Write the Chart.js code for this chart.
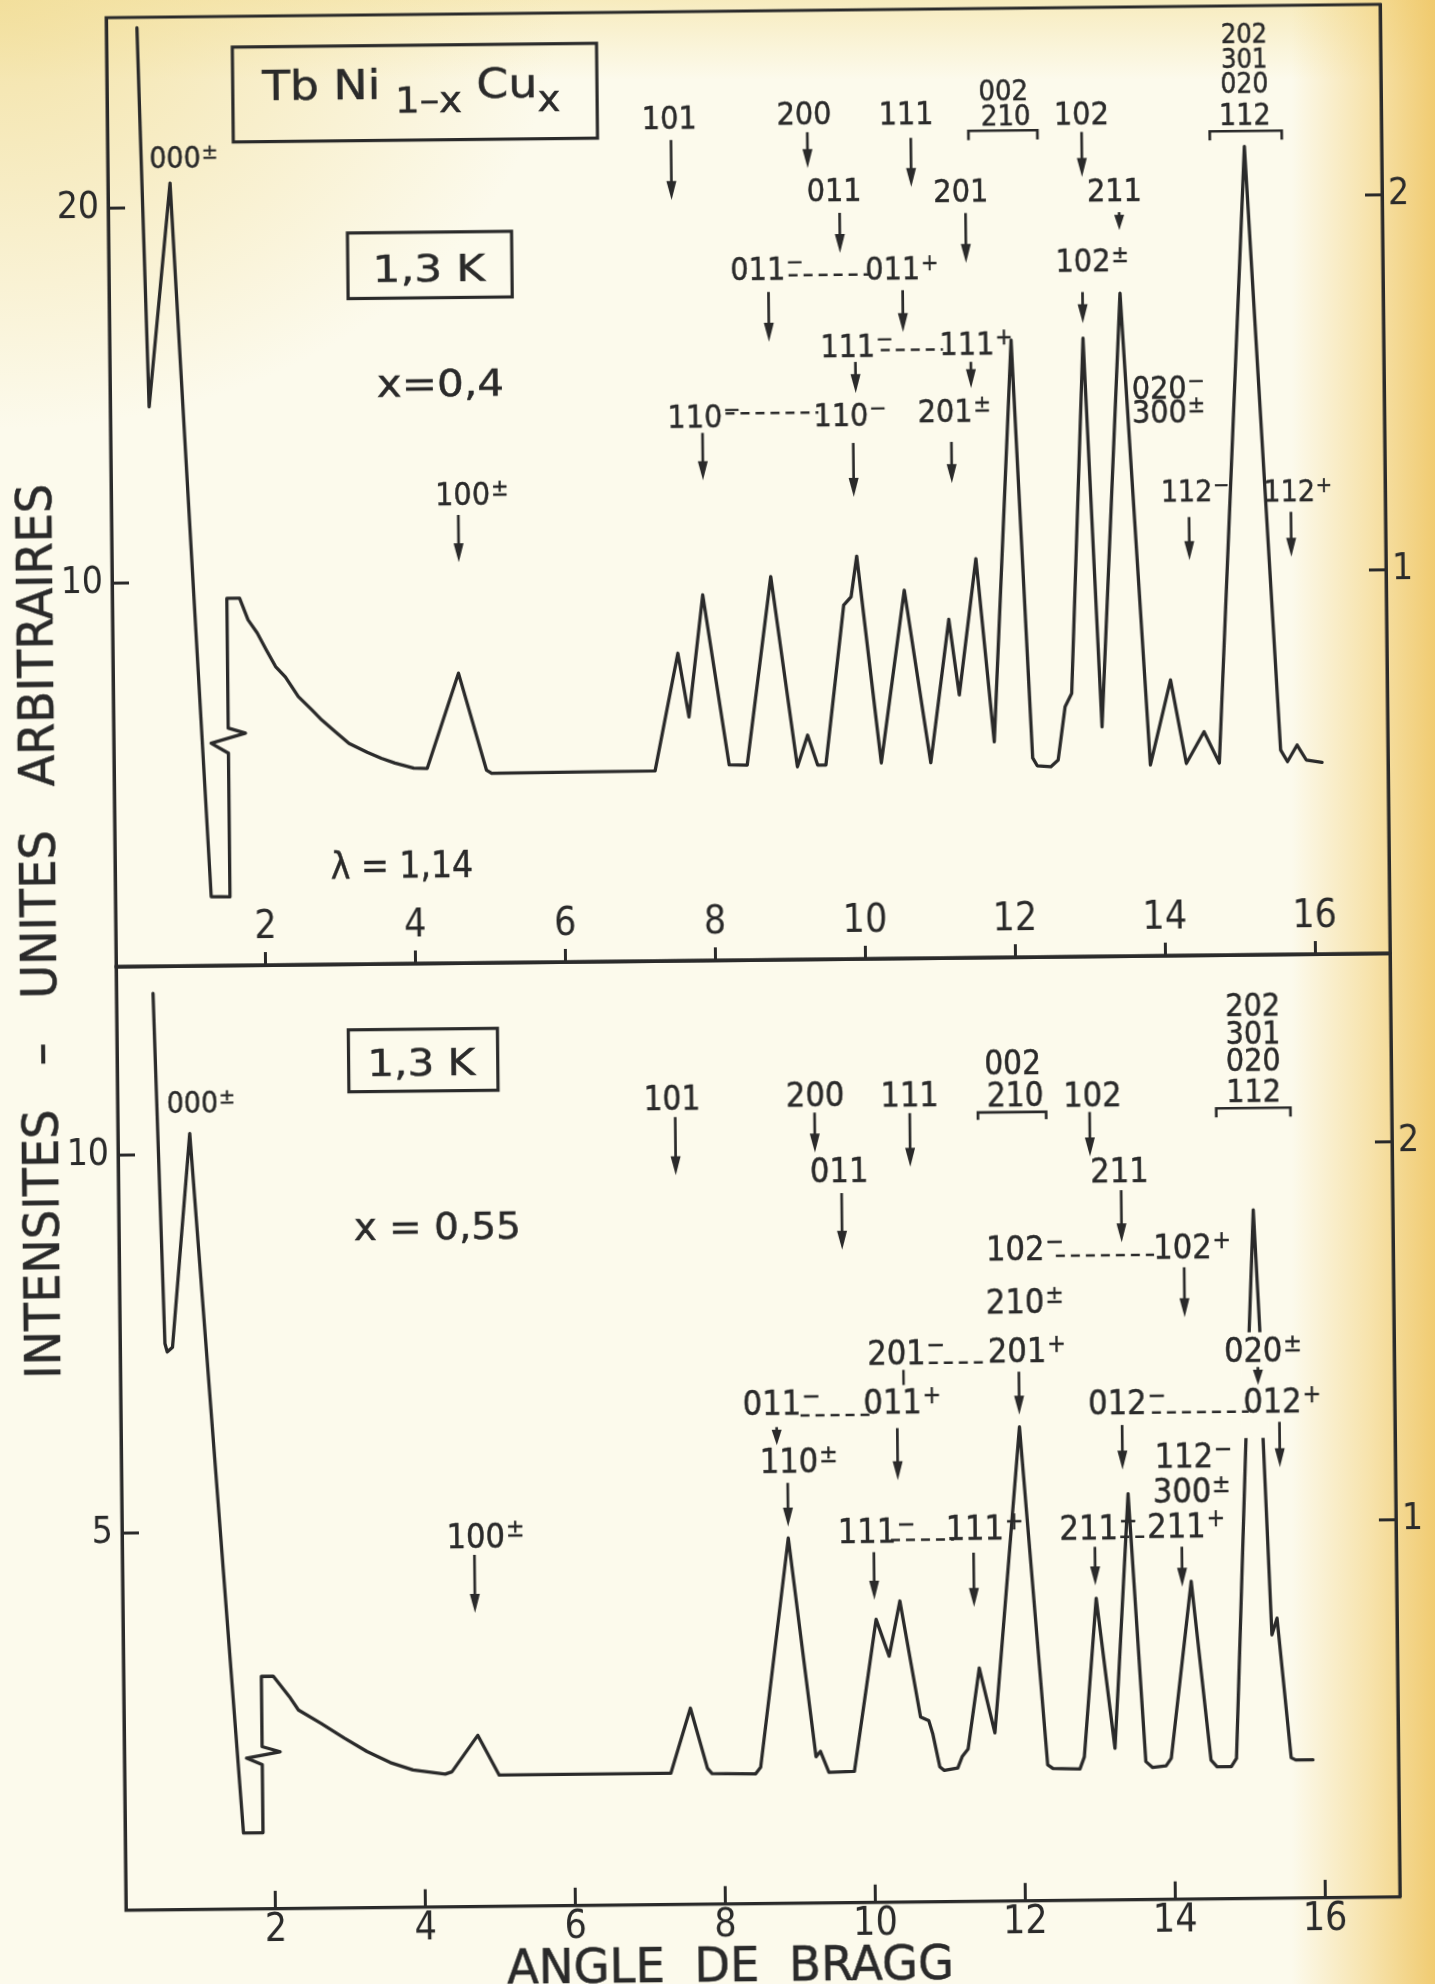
<!DOCTYPE html>
<html lang="fr">
<head>
<meta charset="utf-8">
<title>Tb Ni1-x Cux – diagrammes de diffraction à 1,3 K</title>
<script src="https://cdn.jsdelivr.net/npm/chart.js@4.4.1/dist/chart.umd.min.js"></script>
<style>
  html, body { margin: 0; padding: 0; }
  body {
    width: 1435px; height: 1984px; overflow: hidden; position: relative;
    background:
      linear-gradient(to right, rgba(243,212,128,0) 0%, rgba(243,212,128,0) 90%, rgba(242,207,118,0.55) 95.5%, rgba(239,198,100,0.9) 100%),
      radial-gradient(ellipse 560px 430px at 0% 0%, rgba(241,220,148,0.8), rgba(241,220,148,0) 100%),
      linear-gradient(to bottom, rgba(244,226,160,0.6) 0px, rgba(244,226,160,0) 80px),
      #fcfaec;
  }
  #sheet {
    position: absolute; left: 0; top: 0; width: 1435px; height: 1984px;
    transform: rotate(-0.6deg); transform-origin: 750px 960px;
  }
  #sheet canvas { position: absolute; left: 0; top: 0; }
</style>
</head>
<body>
<div id="sheet">
  <canvas id="upper" width="1435" height="1984"></canvas>
  <canvas id="lower" width="1435" height="1984"></canvas>
</div>
<script>
// ---- axis ticks ----------------------------------------------------------
const angleTicks = [2, 4, 6, 8, 10, 12, 14, 16];
const upperLeftTicks = [10, 20];
const upperRightTicks = [1, 2];
const lowerLeftTicks = [5, 10];
const lowerRightTicks = [1, 2];

// ---- x = 0,4 trace : Bragg angle (deg) / intensity (arb. units) ----------
const upperAngle = [0.41, 0.52, 0.83, 1.28, 1.53, 1.53, 1.30, 1.76, 1.53, 1.53, 1.70, 1.81, 1.93, 2.05, 2.17, 2.30,
  2.47, 2.65, 2.78, 2.96, 3.14, 3.38, 3.57, 3.75, 4.00, 4.18, 4.61, 4.97, 5.04, 7.22, 7.54, 7.68, 7.88, 8.21, 8.45,
  8.79, 9.12, 9.26, 9.39, 9.50, 9.76, 9.86, 9.94, 10.24, 10.57, 10.90, 11.16, 11.29, 11.53, 11.75, 12.03, 12.26,
  12.32, 12.50, 12.60, 12.70, 12.79, 12.99, 13.19, 13.49, 13.83, 14.11, 14.31, 14.55, 14.75, 15.17, 15.57, 15.66,
  15.79, 15.91, 16.12];
const upperIntensity = [24.8, 14.69, 20.65, 1.61, 1.60, 5.43, 5.70, 5.96, 6.10, 9.56, 9.56, 8.98, 8.63, 8.17, 7.73, 7.45,
  6.92, 6.56, 6.29, 5.97, 5.66, 5.42, 5.25, 5.12, 4.98, 4.97, 7.50, 4.91, 4.82, 4.84, 7.97, 6.27, 9.52, 4.98, 4.97,
  9.99, 4.91, 5.75, 4.95, 4.95, 9.21, 9.43, 10.51, 4.99, 9.59, 4.98, 8.80, 6.78, 10.41, 5.52, 16.23, 5.08,
  4.87, 4.84, 5.02, 6.44, 6.79, 16.26, 5.89, 17.45, 4.86, 7.12, 4.89, 5.73, 4.89, 21.33, 5.22, 4.91,
  5.35, 4.95, 4.88];

// ---- x = 0,55 trace ------------------------------------------------------
const lowerAngle = [0.49, 0.60, 0.63, 0.70, 0.96, 1.58, 1.84, 1.84, 1.63, 2.08, 1.84, 1.84, 2.00, 2.21, 2.33, 2.63,
  2.94, 3.24, 3.55, 3.85, 4.28, 4.37, 4.72, 5.00, 7.29, 7.56, 7.78, 7.84, 8.42, 8.49, 8.89, 9.23, 9.29, 9.40, 9.74,
  10.05, 10.22, 10.37, 10.63, 10.74, 10.79, 10.88, 10.94, 11.12, 11.18, 11.26, 11.42, 11.62, 11.99, 12.32, 12.39,
  12.75, 12.81, 12.99, 13.22, 13.43, 13.63, 13.72, 13.90, 13.97, 14.26, 14.50, 14.58, 14.77, 14.84, 15.01, 15.07,
  15.14, 15.21, 15.24, 15.33, 15.40, 15.57, 15.63, 15.86];
const lowerIntensity = [12.14, 7.50, 7.39, 7.45, 10.28, 1.01, 1.01, 1.91, 2.00, 2.08, 2.15, 3.08, 3.08, 2.81, 2.63, 2.45,
  2.25, 2.07, 1.92, 1.82, 1.76, 1.79, 2.27, 1.74, 1.74, 2.60, 1.80, 1.73, 1.72, 1.81, 4.84, 1.94, 2.01, 1.73, 1.74,
  3.75, 3.26, 3.99, 2.45, 2.40, 2.23, 1.79, 1.74, 1.77, 1.92, 2.02, 3.09, 2.23, 6.28, 1.80, 1.75,
  1.74, 1.90, 4.00, 2.01, 5.38, 1.83, 1.75, 1.77, 1.87, 4.21, 1.84, 1.75, 1.75, 1.86, 6.07, 7.55,
  9.12, 7.55, 6.07, 3.49, 3.71, 1.86, 1.83, 1.83];

// ---- drawing style ---------------------------------------------------------
const INK = '#2a2a2a';
const PAPER = '#fcfaec';
const FACE = '"DejaVu Sans Condensed", "DejaVu Sans", sans-serif';

// ---- reflection indexing, in (angle, intensity) units of each panel -------
const upperNotes = {
  boxes: [
    {x1: 1.68, y1: 24.26, x2: 6.54, y2: 21.73},
    {x1: 3.19, y1: 19.27, x2: 5.38, y2: 17.52}
  ],
  labels: [
    {t: 'Tb Ni _{1–x} Cu_{x}', x: 2.07, y: 23.23, s: 41, align: 'left', w: 3.98},
    {t: '1,3 K', x: 4.27, y: 18.33, s: 38, align: 'center', w: 1.50},
    {t: 'x=0,4', x: 4.41, y: 15.27, s: 38, align: 'center', w: 1.70},
    {t: 'λ = 1,14', x: 3.83, y: 2.43, s: 38, align: 'center', w: 1.90},
    {t: '000^{±}', x: 0.90, y: 21.34, s: 30},
    {t: '101', x: 7.50, y: 22.27, s: 32},
    {t: '200', x: 9.30, y: 22.34, s: 32},
    {t: '011', x: 9.69, y: 20.28, s: 32},
    {t: '111', x: 10.66, y: 22.31, s: 32},
    {t: '002', x: 11.96, y: 22.90, s: 29},
    {t: '210', x: 11.99, y: 22.23, s: 29},
    {t: '102', x: 13.00, y: 22.27, s: 32},
    {t: '201', x: 11.38, y: 20.25, s: 32},
    {t: '211', x: 13.43, y: 20.20, s: 32},
    {t: '102^{±}', x: 13.00, y: 18.34, s: 32},
    {t: '011^{−}', x: 8.66, y: 18.22, s: 32},
    {t: '011^{+}', x: 10.46, y: 18.18, s: 32},
    {t: '111^{−}', x: 9.85, y: 16.14, s: 32},
    {t: '111^{+}', x: 11.44, y: 16.16, s: 32},
    {t: '110^{−}', x: 7.80, y: 14.30, s: 32},
    {t: '110^{−}', x: 9.75, y: 14.30, s: 32},
    {t: '201^{±}', x: 11.14, y: 14.38, s: 32},
    {t: '020^{−}', x: 14.00, y: 14.94, s: 32},
    {t: '300^{±}', x: 14.00, y: 14.30, s: 32},
    {t: '112^{−}', x: 14.35, y: 12.16, s: 30},
    {t: '112^{+}', x: 15.72, y: 12.13, s: 30},
    {t: '202', x: 15.18, y: 24.34, s: 27},
    {t: '301', x: 15.18, y: 23.69, s: 27},
    {t: '020', x: 15.18, y: 23.02, s: 28},
    {t: '112', x: 15.18, y: 22.19, s: 30},
    {t: '100^{±}', x: 4.69, y: 12.28, s: 32}
  ],
  arrows: [
    {x: 7.52, y1: 21.66, y2: 20.06},
    {x: 9.34, y1: 21.83, y2: 20.87},
    {x: 9.76, y1: 19.67, y2: 18.60},
    {x: 10.72, y1: 21.65, y2: 20.34},
    {x: 13.00, y1: 21.76, y2: 20.56},
    {x: 11.44, y1: 19.63, y2: 18.30},
    {x: 13.49, y1: 19.61, y2: 19.13},
    {x: 12.99, y1: 17.49, y2: 16.66},
    {x: 8.80, y1: 17.58, y2: 16.25},
    {x: 10.59, y1: 17.59, y2: 16.47},
    {x: 9.95, y1: 15.69, y2: 14.86},
    {x: 11.49, y1: 15.66, y2: 14.96},
    {x: 7.90, y1: 13.84, y2: 12.58},
    {x: 9.91, y1: 13.53, y2: 12.09},
    {x: 11.22, y1: 13.53, y2: 12.43},
    {x: 14.38, y1: 11.46, y2: 10.31},
    {x: 15.74, y1: 11.57, y2: 10.37},
    {x: 4.63, y1: 11.72, y2: 10.46}
  ],
  links: [
    {x1: 9.07, x2: 10.15, y: 18.02},
    {x1: 10.29, x2: 11.12, y: 16.00},
    {x1: 8.21, x2: 9.45, y: 14.35}
  ],
  brackets: [
    {x1: 11.49, x2: 12.41, y: 21.82, end: 21.57},
    {x1: 14.71, x2: 15.67, y: 21.74, end: 21.50}
  ]
};

const lowerNotes = {
  masks: [
    {x1: 14.95, x2: 15.32, y1: 7.50, y2: 6.10}
  ],
  boxes: [
    {x1: 3.09, y1: 11.63, x2: 5.08, y2: 10.81}
  ],
  labels: [
    {t: '1,3 K', x: 4.06, y: 11.20, s: 38, align: 'center', w: 1.44},
    {t: 'x = 0,55', x: 4.25, y: 9.03, s: 38, align: 'center', w: 2.23},
    {t: '000^{±}', x: 1.00, y: 10.70, s: 30},
    {t: '101', x: 7.40, y: 10.68, s: 33},
    {t: '200', x: 9.31, y: 10.72, s: 34},
    {t: '011', x: 9.62, y: 9.71, s: 34},
    {t: '111', x: 10.57, y: 10.70, s: 34},
    {t: '002', x: 11.95, y: 11.11, s: 33},
    {t: '210', x: 11.98, y: 10.69, s: 33},
    {t: '102', x: 13.01, y: 10.68, s: 34},
    {t: '211', x: 13.36, y: 9.67, s: 34},
    {t: '102^{−}', x: 11.96, y: 8.65, s: 34},
    {t: '102^{+}', x: 14.19, y: 8.65, s: 34},
    {t: '210^{±}', x: 11.95, y: 7.95, s: 34},
    {t: '201^{−}', x: 10.36, y: 7.29, s: 34},
    {t: '201^{+}', x: 11.97, y: 7.30, s: 34},
    {t: '011^{−}', x: 8.69, y: 6.63, s: 34},
    {t: '011^{+}', x: 10.30, y: 6.63, s: 34},
    {t: '110^{±}', x: 8.91, y: 5.87, s: 34},
    {t: '111^{−}', x: 9.94, y: 4.93, s: 34},
    {t: '111^{+}', x: 11.38, y: 4.95, s: 34},
    {t: '211^{−}', x: 12.90, y: 4.94, s: 34},
    {t: '211^{+}', x: 14.07, y: 4.96, s: 34},
    {t: '112^{−}', x: 14.18, y: 5.88, s: 34},
    {t: '300^{±}', x: 14.15, y: 5.42, s: 34},
    {t: '012^{−}', x: 13.30, y: 6.60, s: 34},
    {t: '012^{+}', x: 15.37, y: 6.60, s: 34},
    {t: '020^{±}', x: 15.12, y: 7.27, s: 34},
    {t: '202', x: 15.16, y: 11.85, s: 32},
    {t: '301', x: 15.16, y: 11.48, s: 32},
    {t: '020', x: 15.16, y: 11.11, s: 32},
    {t: '112', x: 15.16, y: 10.70, s: 32},
    {t: '100^{±}', x: 4.72, y: 4.92, s: 34}
  ],
  arrows: [
    {x: 7.44, y1: 10.43, y2: 9.66},
    {x: 9.30, y1: 10.47, y2: 9.94},
    {x: 9.65, y1: 9.40, y2: 8.65},
    {x: 10.57, y1: 10.45, y2: 9.74},
    {x: 12.97, y1: 10.44, y2: 9.85},
    {x: 13.38, y1: 9.40, y2: 8.71},
    {x: 14.21, y1: 8.37, y2: 7.71},
    {x: 11.99, y1: 7.01, y2: 6.44},
    {x: 10.36, y1: 6.28, y2: 5.59},
    {x: 8.75, y1: 6.31, y2: 6.07},
    {x: 8.89, y1: 5.57, y2: 4.99},
    {x: 10.03, y1: 4.64, y2: 4.01},
    {x: 11.36, y1: 4.62, y2: 3.90},
    {x: 12.98, y1: 4.68, y2: 4.17},
    {x: 14.14, y1: 4.67, y2: 4.14},
    {x: 13.36, y1: 6.29, y2: 5.70},
    {x: 15.46, y1: 6.31, y2: 5.71},
    {x: 15.18, y1: 7.04, y2: 6.80},
    {x: 4.70, y1: 4.66, y2: 3.89}
  ],
  stems: [
    {x: 10.45, y1: 7.05, y2: 6.85}
  ],
  links: [
    {x1: 12.50, x2: 13.81, y: 8.54},
    {x1: 10.79, x2: 11.59, y: 7.14},
    {x1: 9.07, x2: 9.99, y: 6.46},
    {x1: 10.26, x2: 11.10, y: 4.80},
    {x1: 13.32, x2: 13.75, y: 4.81},
    {x1: 13.76, x2: 15.05, y: 6.45}
  ],
  brackets: [
    {x1: 11.48, x2: 12.39, y: 10.45, end: 10.35},
    {x1: 14.66, x2: 15.65, y: 10.47, end: 10.35}
  ],
  // sheet-level axis titles (canvas pixels)
  titles: [
    {t: 'INTENSITES   –   UNITES   ARBITRAIRES', x: 38, y: 924, s: 50, len: 895, rot: -90},
    {t: 'ANGLE  DE  BRAGG', x: 720, y: 1964, s: 48, len: 447, rot: 0}
  ]
};

// ---- text with ^{superscript} and _{subscript} runs -------------------------
function parseRich(str) {
  const segs = [];
  const re = /([\^_])\{([^}]*)\}/g;
  let last = 0, m;
  while ((m = re.exec(str))) {
    if (m.index > last) segs.push({t: str.slice(last, m.index), k: 0});
    segs.push({t: m[2], k: m[1] === '^' ? 1 : -1});
    last = re.lastIndex;
  }
  if (last < str.length) segs.push({t: str.slice(last), k: 0});
  return segs;
}

function inkText(ctx, text, x, y) {
  ctx.fillText(text, x, y);
  ctx.strokeText(text, x, y);
}

function drawRich(ctx, str, px, py, size, align, targetW) {
  const parts = [];
  let total = 0;
  parseRich(str).forEach(s => {
    const fs = s.k === 0 ? size : size * (s.k > 0 ? 0.72 : 0.85);
    ctx.font = fs + 'px ' + FACE;
    const w = ctx.measureText(s.t).width;
    if (s.k > 0) total += 0.03 * size;
    parts.push({t: s.t, fs, x: total, dy: s.k > 0 ? -0.30 * size : (s.k < 0 ? 0.33 * size : 0), w});
    total += w;
  });
  const sx = targetW ? targetW / total : 1;
  let x0;
  if (align === 'left') x0 = px;
  else if (align === 'center') x0 = px - total * sx / 2;
  else x0 = px - parts[0].w * sx / 2;
  ctx.save();
  ctx.translate(x0, py + 0.36 * size);
  ctx.scale(sx, 1);
  ctx.fillStyle = INK;
  ctx.strokeStyle = INK;
  ctx.lineWidth = 0.45;
  ctx.textAlign = 'left';
  ctx.textBaseline = 'alphabetic';
  parts.forEach(p => { ctx.font = p.fs + 'px ' + FACE; inkText(ctx, p.t, p.x, p.dy); });
  ctx.restore();
}

function segment(ctx, x1, y1, x2, y2) {
  ctx.beginPath(); ctx.moveTo(x1, y1); ctx.lineTo(x2, y2); ctx.stroke();
}

function arrowDown(ctx, x, yTop, yTip) {
  const head = Math.min(19, (yTip - yTop) * 0.85), half = 5;
  ctx.lineWidth = 2.7;
  segment(ctx, x, yTop, x, yTip - head + 3);
  ctx.beginPath();
  ctx.moveTo(x, yTip);
  ctx.lineTo(x - half, yTip - head);
  ctx.lineTo(x + half, yTip - head);
  ctx.closePath();
  ctx.fill();
}

// ---- frame, indexing and titles drawn over each panel ------------------------
const notesPlugin = {
  id: 'notes',
  afterDraw(chart, args, o) {
    const {ctx, chartArea: a} = chart;
    const X = v => chart.scales.x.getPixelForValue(v);
    const Y = v => chart.scales.y.getPixelForValue(v);
    ctx.save();
    ctx.strokeStyle = INK;
    ctx.fillStyle = INK;
    ctx.lineWidth = 3;
    ctx.strokeRect(a.left, a.top, a.right - a.left, a.bottom - a.top);

    (o.masks || []).forEach(m => {
      ctx.fillStyle = PAPER;
      ctx.fillRect(X(m.x1), Y(m.y1), X(m.x2) - X(m.x1), Y(m.y2) - Y(m.y1));
    });
    ctx.fillStyle = INK;

    (o.boxes || []).forEach(b => {
      ctx.lineWidth = 3.2;
      ctx.strokeRect(X(b.x1), Y(b.y1), X(b.x2) - X(b.x1), Y(b.y2) - Y(b.y1));
    });
    (o.links || []).forEach(d => {
      ctx.lineWidth = 2.5;
      ctx.setLineDash([9, 6]);
      segment(ctx, X(d.x1), Y(d.y), X(d.x2), Y(d.y));
      ctx.setLineDash([]);
    });
    (o.brackets || []).forEach(b => {
      ctx.lineWidth = 2.7;
      ctx.beginPath();
      ctx.moveTo(X(b.x1), Y(b.end)); ctx.lineTo(X(b.x1), Y(b.y));
      ctx.lineTo(X(b.x2), Y(b.y)); ctx.lineTo(X(b.x2), Y(b.end));
      ctx.stroke();
    });
    (o.stems || []).forEach(s => { ctx.lineWidth = 2.5; segment(ctx, X(s.x), Y(s.y1), X(s.x), Y(s.y2)); });
    (o.arrows || []).forEach(r => arrowDown(ctx, X(r.x), Y(r.y1), Y(r.y2)));
    (o.labels || []).forEach(l => {
      const tw = l.w ? X(l.x + l.w) - X(l.x) : 0;
      drawRich(ctx, l.t, X(l.x), Y(l.y), l.s, l.align, tw);
    });
    (o.titles || []).forEach(t => {
      ctx.save();
      ctx.translate(t.x, t.y);
      ctx.rotate(t.rot * Math.PI / 180);
      ctx.font = t.s + 'px ' + FACE;
      const w = ctx.measureText(t.t).width;
      ctx.scale(t.len / w, 1);
      ctx.textAlign = 'center';
      ctx.textBaseline = 'alphabetic';
      ctx.fillStyle = INK;
      ctx.strokeStyle = INK;
      ctx.lineWidth = 0.5;
      inkText(ctx, t.t, 0, 0.36 * t.s);
      ctx.restore();
    });
    ctx.restore();
  }
};

// ---- one diffraction panel --------------------------------------------------
function buildPanel(id, cfg) {
  const fixTicks = values => scale => { scale.ticks = values.map(v => ({value: v})); };
  const band = size => scale => {
    if (size.w !== undefined) scale.width = size.w;
    if (size.h !== undefined) scale.height = size.h;
    scale.paddingLeft = scale.paddingRight = scale.paddingTop = scale.paddingBottom = 0;
  };
  const edge = {display: true, color: INK, width: 3};
  return new Chart(document.getElementById(id), {
    type: 'scatter',
    data: {
      datasets: [{
        data: cfg.angle.map((a, i) => ({x: a, y: cfg.intensity[i]})),
        showLine: true, fill: false, tension: 0,
        borderColor: INK, borderWidth: 3.3,
        borderJoinStyle: 'round', borderCapStyle: 'round',
        pointRadius: 0, pointHoverRadius: 0
      }]
    },
    options: {
      responsive: false, animation: false, events: [],
      layout: {padding: {top: cfg.top, left: 0, right: 0, bottom: 0}},
      plugins: {legend: {display: false}, tooltip: {enabled: false}, notes: cfg.notes},
      scales: {
        x: {
          type: 'linear', position: 'bottom', min: 0, max: 17,
          afterBuildTicks: fixTicks(angleTicks), afterFit: band({h: cfg.xBand}),
          grid: {drawOnChartArea: false, drawTicks: true, tickLength: -cfg.xTick, tickWidth: 3, tickColor: INK},
          border: edge,
          ticks: {color: INK, font: {family: FACE, size: 39}, padding: cfg.xPad, mirror: cfg.xInside,
                  maxRotation: 0, autoSkip: false}
        },
        y: {
          type: 'linear', position: 'left', min: cfg.yMin, max: cfg.yMax,
          afterBuildTicks: fixTicks(cfg.leftTicks), afterFit: band({w: 116}),
          grid: {drawOnChartArea: false, drawTicks: true, tickLength: -17, tickWidth: 3, tickColor: INK},
          border: edge,
          ticks: {color: INK, font: {family: FACE, size: 37}, padding: 26}
        },
        y1: {
          type: 'linear', position: 'right', min: cfg.yMin / cfg.ratio, max: cfg.yMax / cfg.ratio,
          afterBuildTicks: fixTicks(cfg.rightTicks), afterFit: band({w: 45}),
          grid: {drawOnChartArea: false, drawTicks: true, tickLength: -17, tickWidth: 3, tickColor: INK},
          border: edge,
          ticks: {color: INK, font: {family: FACE, size: 37}, padding: 23}
        }
      }
    },
    plugins: [notesPlugin]
  });
}

// upper panel: angle labels sit inside the frame, just above the axis
buildPanel('upper', {
  angle: upperAngle, intensity: upperIntensity,
  yMin: -0.23, yMax: 25.08, ratio: 10,
  leftTicks: upperLeftTicks, rightTicks: upperRightTicks,
  top: 11, xBand: 1024, xTick: 13, xPad: 13.6, xInside: true,
  notes: upperNotes
});

buildPanel('lower', {
  angle: lowerAngle, intensity: lowerIntensity,
  yMin: 0, yMax: 12.5, ratio: 5,
  leftTicks: lowerLeftTicks, rightTicks: lowerRightTicks,
  top: 960, xBand: 80.2, xTick: 18, xPad: 16.9, xInside: false,
  notes: lowerNotes
});
</script>
</body>
</html>
